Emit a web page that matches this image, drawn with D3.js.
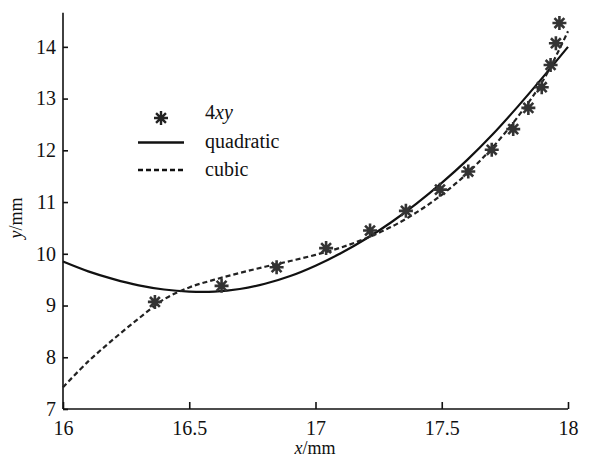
<!DOCTYPE html>
<html lang="en">
<head>
<meta charset="UTF-8">
<title>4xy fit</title>
<script src="https://cdn.jsdelivr.net/npm/d3@7"></script>
<style>
    body{ margin:0; background:#fff; }
    .axis path, .axis line{ stroke:#111; stroke-width:1.6; }
</style>
</head>
<body>
<svg id="chart" width="593" height="462"></svg>
<script>
// measured points (4xy)
let ptX = [16.364, 16.628, 16.846, 17.042, 17.216, 17.358, 17.493, 17.605, 17.698, 17.783, 17.843, 17.896, 17.931, 17.952, 17.966]
let ptY = [9.07, 9.38, 9.74, 10.11, 10.45, 10.83, 11.24, 11.59, 12.01, 12.41, 12.82, 13.22, 13.65, 14.07, 14.46]

// fitted curves
let curveX = [16.0, 16.1, 16.2, 16.3, 16.4, 16.5, 16.6, 16.7, 16.8, 16.9, 17.0,
              17.1, 17.2, 17.3, 17.4, 17.5, 17.6, 17.7, 17.8, 17.9, 18.0]
let quadY = [9.85, 9.66, 9.51, 9.39, 9.31, 9.27, 9.27, 9.32, 9.42, 9.57, 9.77,
             10.01, 10.29, 10.61, 10.97, 11.37, 11.81, 12.30, 12.84, 13.41, 14.0]
let cubicY = [7.42, 7.92, 8.35, 8.75, 9.12, 9.35, 9.50, 9.63, 9.75, 9.86, 9.98,
              10.12, 10.30, 10.52, 10.80, 11.14, 11.55, 12.05, 12.64, 13.34, 14.3]

let xTicks = [16, 16.5, 17, 17.5, 18]
let yTicks = [7, 8, 9, 10, 11, 12, 13, 14]
let legendNames = ["4xy", "quadratic", "cubic"]

const FONT = "Liberation Serif"

let svg = d3.select("#chart")

let x = d3.scaleLinear().domain([16, 18]).range([63, 568])
let y = d3.scaleLinear().domain([7, 14.66]).range([409, 12.7])

// axes, ticks pointing inward
svg.append("g")
    .attr("class", "axis")
    .attr("transform", "translate(0,409)")
    .call(d3.axisBottom(x).tickValues(xTicks).tickSizeInner(-7).tickSizeOuter(0).tickPadding(12)
        .tickFormat(d => d3.format("")(d)))
    .call(g => g.select(".domain").attr("d", "M63,0H568"))

svg.append("g")
    .attr("class", "axis")
    .attr("transform", "translate(63,0)")
    .call(d3.axisLeft(y).tickValues(yTicks).tickSizeInner(-5).tickSizeOuter(0).tickPadding(7))
    .call(g => g.select(".domain").attr("d", "M0,409V12.7"))

svg.selectAll(".axis")
    .attr("font-family", FONT)
    .attr("font-size", 20)
svg.selectAll(".axis text")
    .attr("fill", "#111")

// curves
let quadData = curveX.map((d, i) => [d, quadY[i]])
let cubicData = curveX.map((d, i) => [d, cubicY[i]])
let line = d3.line().x(d => x(d[0])).y(d => y(d[1])).curve(d3.curveCatmullRom)

svg.append("path")
    .datum(quadData)
    .attr("d", line)
    .attr("fill", "none")
    .attr("stroke", "#111")
    .attr("stroke-width", 2.2)

svg.append("path")
    .datum(cubicData)
    .attr("d", line)
    .attr("fill", "none")
    .attr("stroke", "#222")
    .attr("stroke-width", 2.2)
    .attr("stroke-dasharray", "5,3")

// asterisk marker
function star(r){
    let a = r * Math.SQRT1_2
    return `M${-r},0H${r}M0,${-r}V${r}M${-a},${-a}L${a},${a}M${-a},${a}L${a},${-a}`
}

svg.append("g")
    .selectAll("path")
    .data(ptX.map((d, i) => [d, ptY[i]]))
    .enter()
    .append("path")
    .attr("transform", d => `translate(${x(d[0])},${y(d[1])})`)
    .attr("d", star(7))
    .attr("stroke", "#333")
    .attr("stroke-width", 2.6)
    .attr("fill", "none")

// legend
let leg = svg.append("g").attr("font-family", FONT).attr("font-size", 20).attr("fill", "#111")
leg.append("path")
    .attr("transform", "translate(161,118)")
    .attr("d", star(7))
    .attr("stroke", "#222")
    .attr("stroke-width", 2.4)
leg.append("line").attr("x1", 138).attr("x2", 184).attr("y1", 142.5).attr("y2", 142.5)
    .attr("stroke", "#111").attr("stroke-width", 2.4)
leg.append("line").attr("x1", 138).attr("x2", 184).attr("y1", 170).attr("y2", 170)
    .attr("stroke", "#111").attr("stroke-width", 2.4).attr("stroke-dasharray", "5,3")

let lt = leg.append("text").attr("x", 205).attr("y", 119)
lt.append("tspan").text(legendNames[0].slice(0, 1))
lt.append("tspan").attr("font-style", "italic").text(legendNames[0].slice(1))
leg.append("text").attr("x", 205).attr("y", 148).text(legendNames[1])
leg.append("text").attr("x", 205).attr("y", 176).text(legendNames[2])

// axis titles
let xt = svg.append("text").attr("x", 315).attr("y", 454).attr("text-anchor", "middle")
    .attr("font-family", FONT).attr("font-size", 18).attr("fill", "#111")
xt.append("tspan").attr("font-style", "italic").text("x")
xt.append("tspan").text("/mm")

let yt = svg.append("text").attr("transform", "translate(22,218) rotate(-90)")
    .attr("text-anchor", "middle").attr("font-family", FONT).attr("font-size", 18).attr("fill", "#111")
yt.append("tspan").attr("font-style", "italic").text("y")
yt.append("tspan").text("/mm")
</script>
</body>
</html>
